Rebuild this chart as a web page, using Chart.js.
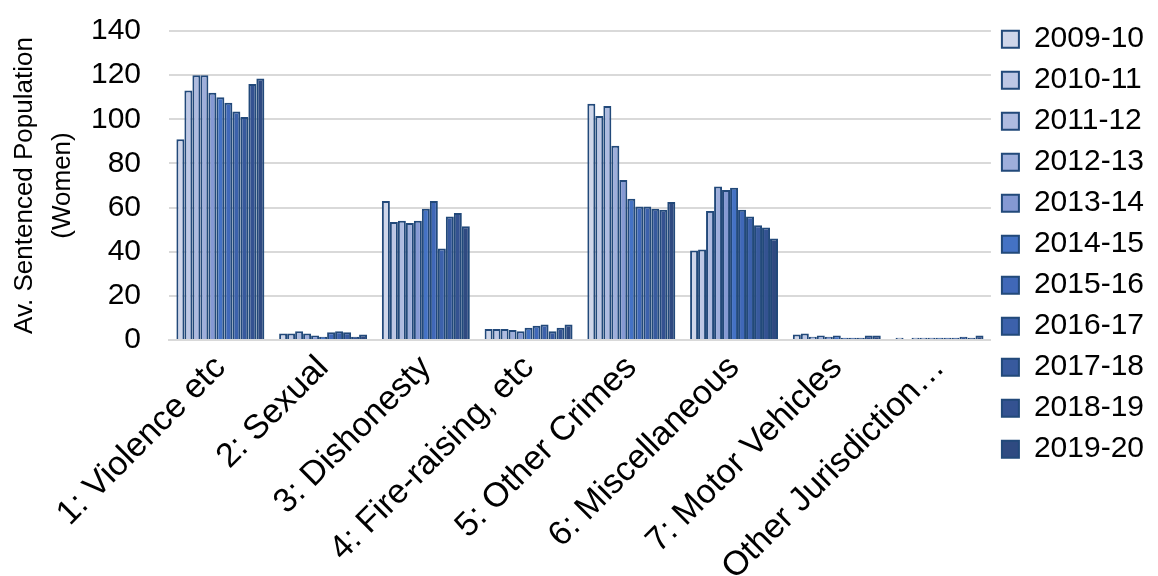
<!DOCTYPE html>
<html>
<head>
<meta charset="utf-8">
<script src="https://cdn.jsdelivr.net/npm/chart.js@4/dist/chart.umd.min.js"></script>
<style>
  html, body { margin: 0; padding: 0; background: #ffffff; }
  #wrap { width: 1158px; height: 576px; position: relative; }
</style>
</head>
<body>
<div id="wrap"><canvas id="c" width="1158" height="576"></canvas></div>
<script>
// Offence groups along the x axis
const categories = [
  '1: Violence etc', '2: Sexual', '3: Dishonesty', '4: Fire-raising, etc',
  '5: Other Crimes', '6: Miscellaneous', '7: Motor Vehicles', '8: Other Jurisdiction\u2026'
];

// Financial years (one series each)
const years = ['2009-10', '2010-11', '2011-12', '2012-13', '2013-14', '2014-15',
               '2015-16', '2016-17', '2017-18', '2018-19', '2019-20'];

// Average sentenced population (women) per offence group, one array per year
const y2009_10 = [91, 3, 63, 5, 107, 40.5, 2.5, 1];
const y2010_11 = [113, 3, 53.5, 5, 101.5, 41, 3, 0];
const y2011_12 = [120, 4, 54, 5, 106, 58.5, 1.5, 1];
const y2012_13 = [120, 3, 53, 4.5, 88, 69.5, 2, 1];
const y2013_14 = [112, 2, 54, 4, 72.5, 68, 1.5, 1];
const y2014_15 = [110, 1.5, 59.5, 5.5, 64, 69, 2, 1];
const y2015_16 = [107.5, 3.5, 63, 6.5, 60.5, 59, 1, 1];
const y2016_17 = [103.5, 4, 41.5, 7, 60.5, 56, 1, 1];
const y2017_18 = [101, 3.5, 56, 4, 59.5, 52, 1, 1.5];
const y2018_19 = [116, 1.5, 57.5, 5.5, 59, 51, 2, 1];
const y2019_20 = [118.5, 2.5, 51.5, 7, 62.5, 46, 2, 2];

const seriesValues = [y2009_10, y2010_11, y2011_12, y2012_13, y2013_14, y2014_15,
                      y2015_16, y2016_17, y2017_18, y2018_19, y2019_20];

// Y axis ticks
const yTicks = [0, 20, 40, 60, 80, 100, 120, 140];

// Light-to-dark blue fills for the years
const fills = ['#cfd6ea', '#bdc7e5', '#aebbe0', '#9eaedb', '#8599d3', '#4472c4',
               '#4068b8', '#3c61ab', '#385a9e', '#345291', '#2f4a81'];
const edge = '#22497a';

const FONT = "'Liberation Sans', Arial, sans-serif";
const FS = 30;

const datasets = years.map((y, i) => ({
  label: y,
  data: seriesValues[i],
  backgroundColor: fills[i],
  borderColor: edge,
  borderWidth: 2,
  borderSkipped: 'bottom',
  barPercentage: 1.0,
  categoryPercentage: 0.856
}));

new Chart(document.getElementById('c'), {
  type: 'bar',
  data: { labels: categories, datasets },
  options: {
    responsive: false,
    animation: false,
    devicePixelRatio: 1,
    layout: { padding: { top: 2, right: 4, left: 1, bottom: 0 } },
    plugins: {
      tooltip: { enabled: false },
      legend: {
        position: 'right',
        align: 'start',
        title: { display: true, text: ' ', font: { size: 1 }, padding: 5 },
        labels: {
          font: { family: FONT, size: FS },
          color: '#000000',
          boxWidth: 17,
          boxHeight: 17,
          padding: 11
        }
      }
    },
    scales: {
      x: {
        grid: { display: false, drawTicks: false },
        border: { display: true, color: '#d9d9d9', width: 2 },
        ticks: {
          font: { family: FONT, size: 34 },
          color: '#000000',
          minRotation: 45,
          maxRotation: 45,
          autoSkip: false,
          padding: 8
        },
        afterFit(scale) { scale.height = 236; }
      },
      y: {
        min: 0,
        max: 140,
        afterBuildTicks(scale) { scale.ticks = yTicks.map(v => ({ value: v })); },
        afterFit(scale) { scale.width = 168; scale.paddingTop = 31; },
        grid: { color: '#d9d9d9', lineWidth: 2, drawTicks: false },
        border: { display: false },
        ticks: {
          font: { family: FONT, size: FS },
          color: '#000000',
          padding: 28
        },
        title: {
          display: true,
          text: ['Av. Sentenced Population', '(Women)'],
          font: { family: FONT, size: 26, lineHeight: 1.46 },
          color: '#000000',
          padding: { top: 5, bottom: 6 }
        }
      }
    }
  }
});
</script>
</body>
</html>
